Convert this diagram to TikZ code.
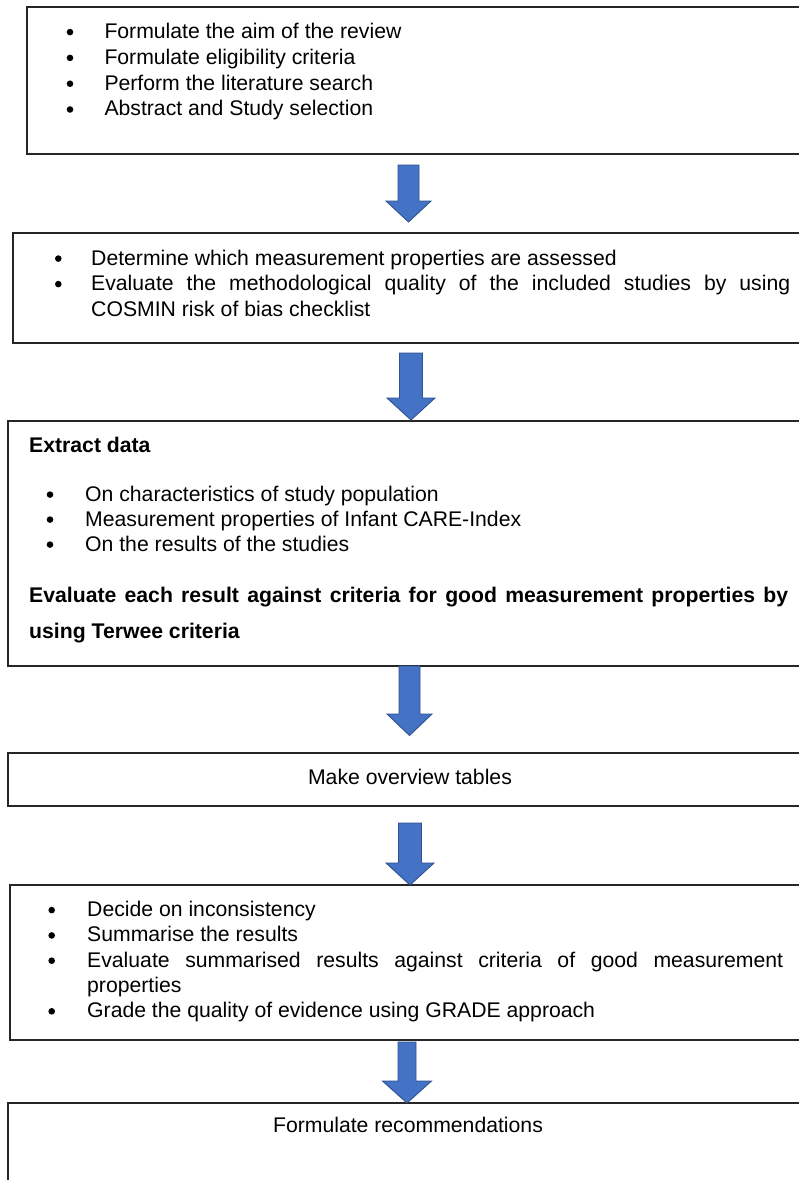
\documentclass[tikz,border=0pt]{standalone}
\usepackage{fontspec}
\setmainfont{Liberation Sans}
\definecolor{arrowfill}{HTML}{4472C4}
\definecolor{arrowline}{HTML}{2F528F}
\definecolor{boxline}{HTML}{262626}
\newcommand\blockarr[6]{%
  \draw[blockarrow] (#1-#5,#2) -- (#1+#5,#2) -- (#1+#5,#3) -- (#1+#6,#3) -- (#1,#4) -- (#1-#6,#3) -- (#1-#5,#3) -- cycle;}
\begin{document}
\begin{tikzpicture}[x=1pt,y=-1pt,
  box/.style={draw=boxline,line width=1.1pt},
  txt/.style={inner sep=0pt,anchor=base west,font=\fontsize{21.2}{25.5}\selectfont},
  ctxt/.style={inner sep=0pt,anchor=base,font=\fontsize{21.2}{25.5}\selectfont},
  bul/.style={circle,fill=black,inner sep=0pt,minimum size=6.6pt,yshift=6.4pt},
  blockarrow/.style={fill=arrowfill,draw=arrowline,line width=0.9pt,line join=miter}]
\useasboundingbox (0,0) rectangle (799,1180);
\clip (0,0) rectangle (799,1180);
\fill[white] (0,0) rectangle (799,1180);

% boxes
\draw[box] (27,7) rectangle (805,154);
\draw[box] (13,233) rectangle (805,343);
\draw[box] (8,421) rectangle (805,666);
\draw[box] (8,753) rectangle (805,806);
\draw[box] (10,885) rectangle (805,1040);
\draw[box] (8,1103) rectangle (805,1200);

% box 1
\node[bul] (b1a) at (70,38.5) {};
\node[txt] (t1a) at (104.3,38.5) {Formulate the aim of the review};
\node[bul] (b1b) at (70,64.3) {};
\node[txt] (t1b) at (104.3,64.3) {Formulate eligibility criteria};
\node[bul] (b1c) at (70,90.1) {};
\node[txt] (t1c) at (104.3,90.1) {Perform the literature search};
\node[bul] (b1d) at (70,115.9) {};
\node[txt] (t1d) at (104.3,115.9) {Abstract and Study selection};

% box 2
\node[bul] (b2a) at (58.3,265) {};
\node[txt] (t2a) at (91,265) {Determine which measurement properties are assessed};
\node[bul] (b2b) at (58.3,290.5) {};
\node[txt] (t2b) at (91,290.5) {\makebox[699pt][s]{Evaluate the methodological quality of the included studies by using}};
\node[txt] (t2c) at (91,316) {COSMIN risk of bias checklist};

% box 3
\node[txt] (t3h) at (29,452) {\bfseries Extract data};
\node[bul] (b3a) at (50,501) {};
\node[txt] (t3a) at (85,501) {On characteristics of study population};
\node[bul] (b3b) at (50,526) {};
\node[txt] (t3b) at (85,526) {Measurement properties of Infant CARE-Index};
\node[bul] (b3c) at (50,551) {};
\node[txt] (t3c) at (85,551) {On the results of the studies};
\node[txt] (t3d) at (29,602) {\bfseries\makebox[759pt][s]{Evaluate each result against criteria for good measurement properties by}};
\node[txt] (t3e) at (29,638) {\bfseries using Terwee criteria};

% box 4
\node[ctxt] (t4) at (410,784) {Make overview tables};

% box 5
\node[bul] (b5a) at (51.7,916.5) {};
\node[txt] (t5a) at (87,916.5) {Decide on inconsistency};
\node[bul] (b5b) at (51.7,941.8) {};
\node[txt] (t5b) at (87,941.8) {Summarise the results};
\node[bul] (b5c) at (51.7,967.1) {};
\node[txt] (t5c) at (87,967.1) {\makebox[696pt][s]{Evaluate summarised results against criteria of good measurement}};
\node[txt] (t5d) at (87,992.4) {properties};
\node[bul] (b5e) at (51.7,1017.7) {};
\node[txt] (t5e) at (87,1017.7) {Grade the quality of evidence using GRADE approach};

% box 6
\node[ctxt] (t6) at (408,1132) {Formulate recommendations};

% block arrows
\blockarr{408.5}{165}{201}{222}{10.5}{22.5}
\blockarr{411}{353}{398}{420}{11.5}{24}
\blockarr{409.5}{666}{714}{735.5}{10.5}{22.5}
\blockarr{410}{823}{863}{885}{11.5}{24}
\blockarr{407}{1042}{1081}{1103}{9}{24.5}
\end{tikzpicture}
\end{document}
